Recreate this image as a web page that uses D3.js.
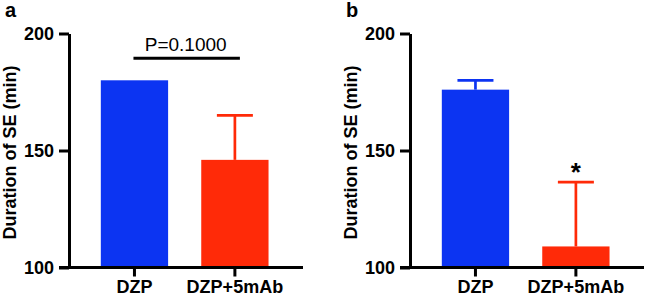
<!DOCTYPE html>
<html lang="en">
<head>
<meta charset="UTF-8">
<title>Duration of SE</title>
<script src="https://d3js.org/d3.v7.min.js"></script>
<style>
  body { margin: 0; background: #fff; }
  svg { display: block; font-family: "Liberation Sans", Arial, sans-serif; }
</style>
</head>
<body>
<div id="chart"></div>
<script>
// groups and values
const groups = ["DZP", "DZP+5mAb"];
const meansA = [180, 146];
const semA = [0, 19];
const meansB = [176, 109];
const semB = [4, 27.5];
const yTicks = [100, 150, 200];
const colors = ["#0c34f2", "#ff2a08"];

const W = 647, H = 297;
const svg = d3.select("#chart").append("svg")
  .attr("width", W)
  .attr("height", H);

function drawPanel(x0, letter, means, sems) {
  const axisX = x0 + 69;
  const y = d3.scaleLinear().domain([100, 200]).range([267.5, 33.5]);
  const x = d3.scaleBand()
    .domain(groups)
    .range([axisX, axisX + 234])
    .paddingInner(0.33)
    .paddingOuter(0.33)
    .align(0.48);

  const g = svg.append("g");

  // bars
  g.selectAll(".bar")
    .data(groups)
    .enter().append("rect")
    .attr("x", d => x(d))
    .attr("width", x.bandwidth())
    .attr("y", (d, i) => y(means[i]))
    .attr("height", (d, i) => y(100) - y(means[i]))
    .attr("fill", (d, i) => colors[i]);

  // upper error bars
  groups.forEach((d, i) => {
    if (!sems[i]) return;
    const cx = x(d) + x.bandwidth() / 2;
    g.append("line")
      .attr("x1", cx).attr("x2", cx)
      .attr("y1", y(means[i])).attr("y2", y(means[i] + sems[i]))
      .attr("stroke", colors[i]).attr("stroke-width", 2.7);
    g.append("line")
      .attr("x1", cx - 18).attr("x2", cx + 18)
      .attr("y1", y(means[i] + sems[i])).attr("y2", y(means[i] + sems[i]))
      .attr("stroke", colors[i]).attr("stroke-width", 2.7);
  });

  // y axis
  const ya = g.append("g")
    .attr("transform", `translate(${axisX},0)`)
    .call(d3.axisLeft(y).tickValues(yTicks).tickSize(10).tickSizeOuter(0).tickPadding(5));
  ya.selectAll("path, line").attr("stroke", "#000").attr("stroke-width", 3);
  ya.selectAll("text")
    .attr("fill", "#000")
    .style("font-size", "18px")
    .style("font-weight", "bold");

  // x axis
  const xa = g.append("g")
    .attr("transform", `translate(0,${y(100)})`)
    .call(d3.axisBottom(x).tickSize(9).tickSizeOuter(0).tickPadding(4));
  xa.selectAll("path, line").attr("stroke", "#000").attr("stroke-width", 3);
  xa.select(".domain").attr("d", `M${axisX - 10},0H${axisX + 234}`);
  xa.selectAll("text")
    .attr("fill", "#000")
    .style("font-size", "18px")
    .style("font-weight", "bold");

  // y axis title
  g.append("text")
    .attr("transform", `translate(${x0 + 15.5},${152.5}) rotate(-90)`)
    .attr("text-anchor", "middle")
    .style("font-size", "18px")
    .style("font-weight", "bold")
    .text("Duration of SE (min)");

  // panel letter
  g.append("text")
    .attr("x", x0 + 5)
    .attr("y", 17)
    .style("font-size", "20px")
    .style("font-weight", "bold")
    .text(letter);

  return { g, x, y };
}

const pa = drawPanel(0, "a", meansA, semA);
const pb = drawPanel(341, "b", meansB, semB);

// significance bracket, panel a
const c0 = pa.x(groups[0]) + pa.x.bandwidth() / 2;
const c1 = pa.x(groups[1]) + pa.x.bandwidth() / 2;
pa.g.append("line")
  .attr("x1", c0 - 1).attr("x2", c1 + 5)
  .attr("y1", pa.y(189.4)).attr("y2", pa.y(189.4))
  .attr("stroke", "#000").attr("stroke-width", 3);
pa.g.append("text")
  .attr("x", (c0 + c1) / 2 + 1)
  .attr("y", pa.y(192.7))
  .attr("text-anchor", "middle")
  .style("font-size", "19px")
  .text("P=0.1000");

// asterisk, panel b
const cb = pb.x(groups[1]) + pb.x.bandwidth() / 2;
pb.g.append("text")
  .attr("x", cb)
  .attr("y", pb.y(meansB[1] + semB[1]) - 1)
  .attr("text-anchor", "middle")
  .style("font-size", "26px")
  .style("font-weight", "bold")
  .text("*");
</script>
</body>
</html>
